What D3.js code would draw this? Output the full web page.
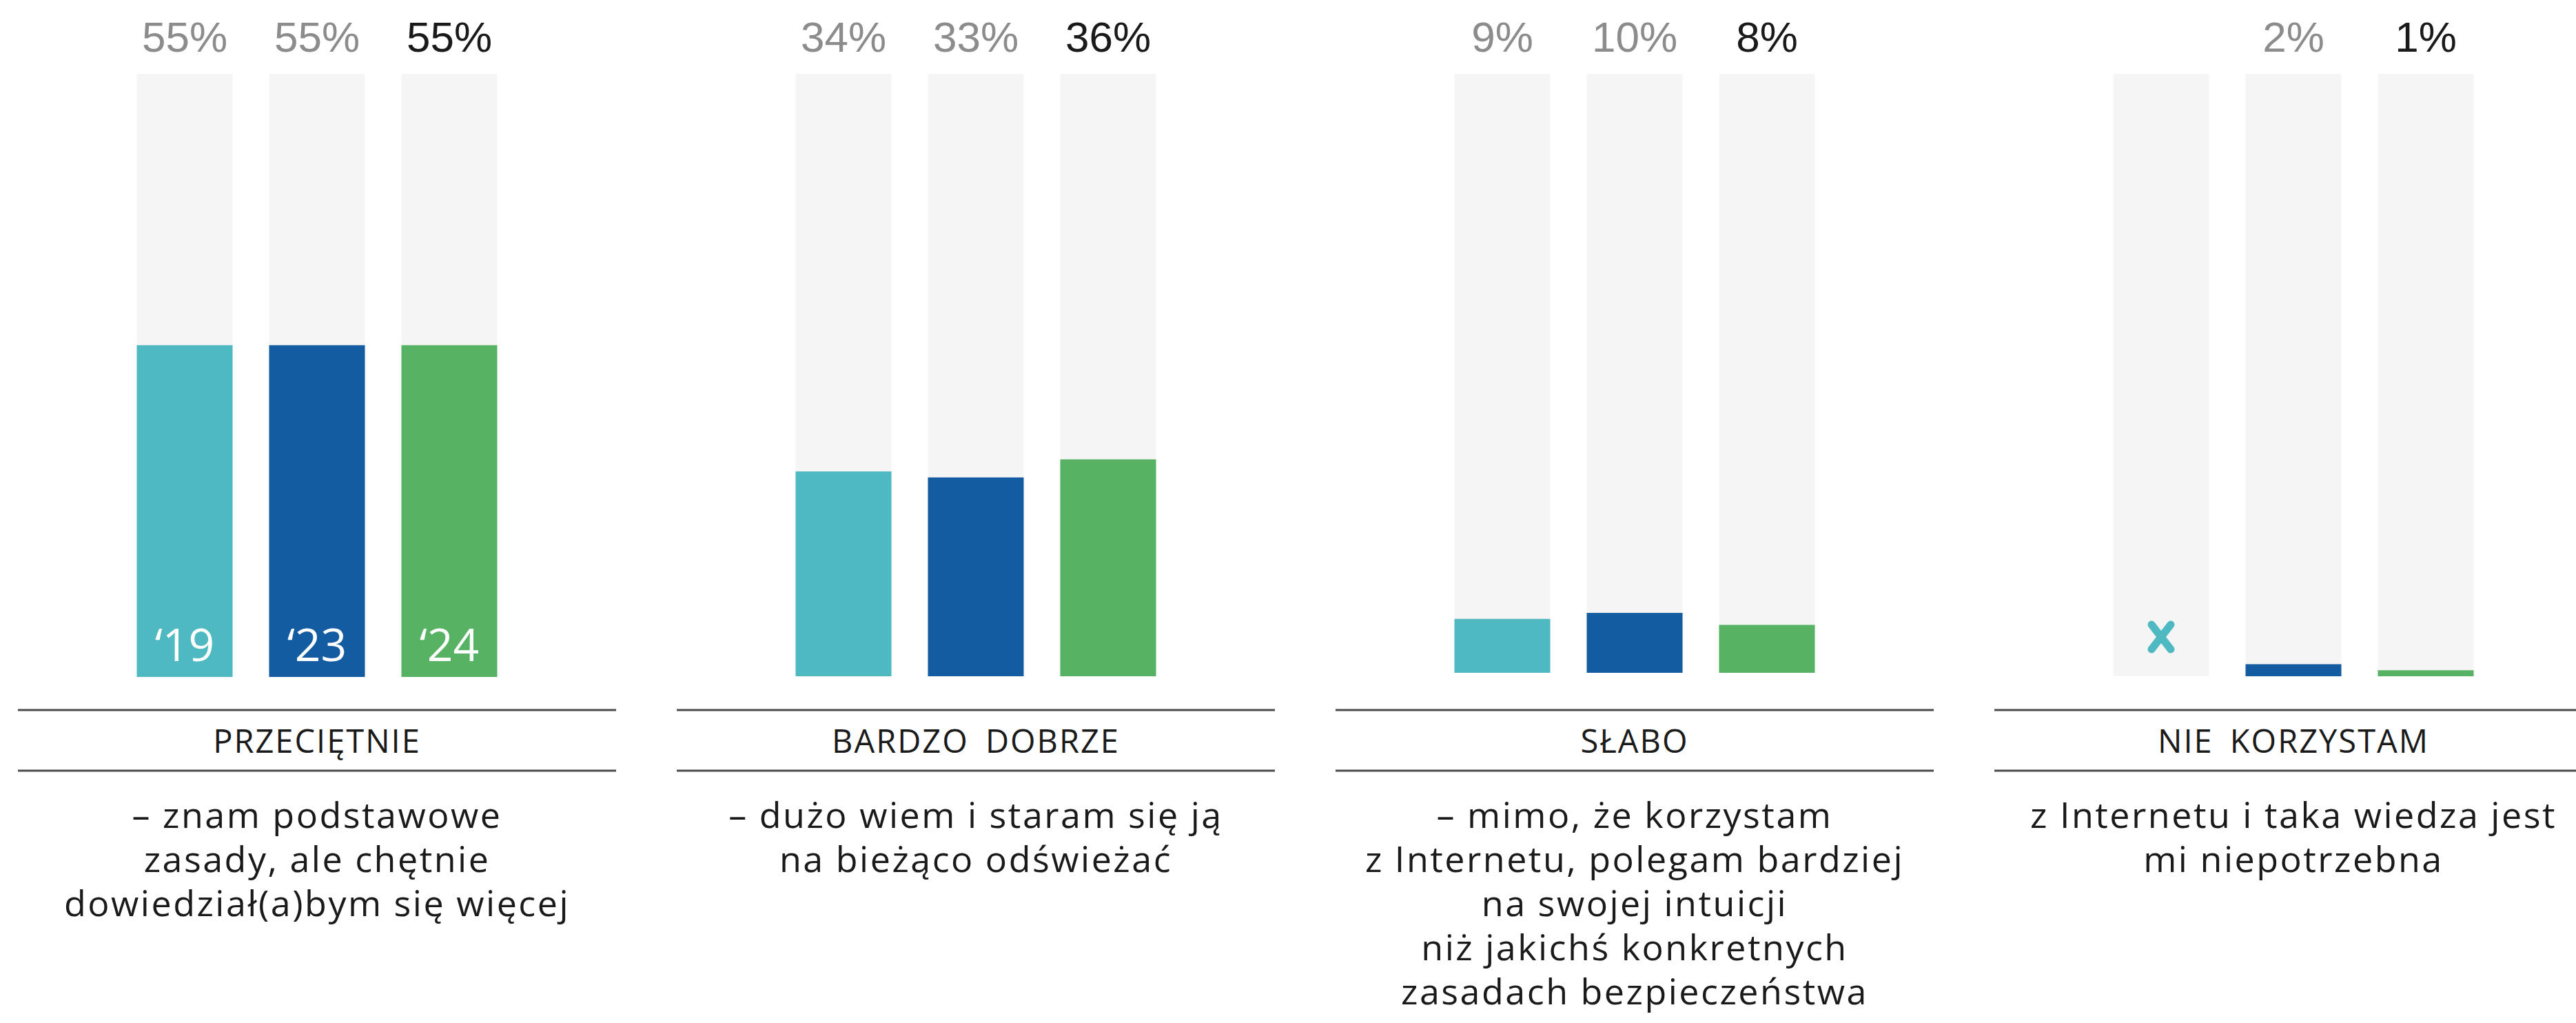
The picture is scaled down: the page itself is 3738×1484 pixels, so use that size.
<!DOCTYPE html>
<html>
<head>
<meta charset="utf-8">
<script src="https://cdn.jsdelivr.net/npm/d3@7"></script>
<style>
  html, body { margin: 0; padding: 0; background: #ffffff; }
  svg { display: block; }
</style>
</head>
<body>
<svg id="chart" width="3738" height="1484"></svg>
<script>
// ---- data ----
const categories = ["PRZECIĘTNIE", "BARDZO DOBRZE", "SŁABO", "NIE KORZYSTAM"];
const years = ["\u201819", "\u201823", "\u201824"];
const values2019 = [55, 34, 9, null];
const values2023 = [55, 33, 10, 2];
const values2024 = [55, 36, 8, 1];
const descriptions = [
  ["– znam podstawowe", "zasady, ale chętnie", "dowiedział(a)bym się więcej"],
  ["– dużo wiem i staram się ją", "na bieżąco odświeżać"],
  ["– mimo, że korzystam", "z Internetu, polegam bardziej", "na swojej intuicji", "niż jakichś konkretnych", "zasadach bezpieczeństwa"],
  ["z Internetu i taka wiedza jest", "mi niepotrzebna"]
];
const seriesValues = [values2019, values2023, values2024];
const seriesColors = ["#4fb9c2", "#135ca2", "#58b263"];
const labelColors = ["#8c8c8c", "#8c8c8c", "#1a1a1a"];

// ---- layout ----
const svg = d3.select("#chart");
const panelScale = d3.scaleBand().domain(categories).range([-18, 3806]);
const barScale = d3.scaleBand().domain(years).range([-288, 288]).paddingInner(0.276).paddingOuter(0.138);
const panelBase = [982, 981, 976, 981];
const yFor = i => d3.scaleLinear().domain([0, 100]).range([panelBase[i], 107]);

const descFont = "'Open Sans', 'Noto Sans', sans-serif";

const panels = svg.selectAll("g.panel")
  .data(categories.map((c, i) => ({
    cat: c, i, y: yFor(i),
    vals: seriesValues.map((s, k) => ({ year: years[k], k, v: s[i], y: yFor(i) })),
    desc: descriptions[i]
  })))
  .join("g")
  .attr("class", "panel")
  .attr("transform", d => `translate(${panelScale(d.cat) + panelScale.bandwidth() / 2},0)`);

// background bars
panels.selectAll("rect.bg")
  .data(d => d.vals)
  .join("rect")
  .attr("class", "bg")
  .attr("x", d => barScale(d.year))
  .attr("width", barScale.bandwidth())
  .attr("y", d => d.y(100))
  .attr("height", d => d.y(0) - d.y(100))
  .attr("fill", "#f5f5f5");

// value bars
panels.selectAll("rect.val")
  .data(d => d.vals.filter(v => v.v != null))
  .join("rect")
  .attr("class", "val")
  .attr("x", d => barScale(d.year))
  .attr("width", barScale.bandwidth())
  .attr("y", d => d.y(d.v))
  .attr("height", d => d.y(0) - d.y(d.v))
  .attr("fill", d => seriesColors[d.k]);

// percent labels
panels.selectAll("text.pct")
  .data(d => d.vals.filter(v => v.v != null))
  .join("text")
  .attr("class", "pct")
  .attr("x", d => barScale(d.year) + barScale.bandwidth() / 2)
  .attr("y", 75)
  .attr("text-anchor", "middle")
  .attr("font-family", "'Liberation Sans', Arial, sans-serif")
  .attr("font-size", 62)
  .attr("fill", d => labelColors[d.k])
  .text(d => d.v + "%");

// missing-value cross
panels.each(function(p) {
  const g = d3.select(this);
  p.vals.filter(v => v.v == null).forEach(v => {
    const cx = barScale(v.year) + barScale.bandwidth() / 2;
    const cy = 924;
    g.append("path")
      .attr("d", `M${cx - 14},${cy - 18}L${cx + 14},${cy + 18}M${cx + 14},${cy - 18}L${cx - 14},${cy + 18}`)
      .attr("stroke", seriesColors[v.k])
      .attr("stroke-width", 11)
      .attr("stroke-linecap", "round")
      .attr("fill", "none");
  });
});

// year labels in first panel
panels.filter(d => d.i === 0).selectAll("text.year")
  .data(d => d.vals)
  .join("text")
  .attr("class", "year")
  .attr("x", d => barScale(d.year) + barScale.bandwidth() / 2)
  .attr("y", 959)
  .attr("text-anchor", "middle")
  .attr("font-family", descFont)
  .attr("font-size", 66)
  .attr("fill", "#ffffff")
  .text(d => d.year);

// rules
[1030, 1118].forEach(ly => {
  panels.append("line")
    .attr("x1", -434).attr("x2", 434)
    .attr("y1", ly).attr("y2", ly)
    .attr("stroke", "#4a4a4a")
    .attr("stroke-width", 3);
});

// category labels
panels.append("text")
  .attr("x", 0)
  .attr("y", 1092)
  .attr("text-anchor", "middle")
  .attr("font-family", descFont)
  .attr("font-size", 47)
  .attr("letter-spacing", 2)
  .attr("word-spacing", 10)
  .attr("fill", "#1a1a1a")
  .text(d => d.cat);

// descriptions
panels.selectAll("text.desc")
  .data(d => d.desc)
  .join("text")
  .attr("class", "desc")
  .attr("x", 0)
  .attr("y", (d, j) => 1201 + j * 64)
  .attr("text-anchor", "middle")
  .attr("font-family", descFont)
  .attr("font-size", 52)
  .attr("letter-spacing", 2.5)
  .attr("fill", "#1a1a1a")
  .text(d => d);
</script>
</body>
</html>
